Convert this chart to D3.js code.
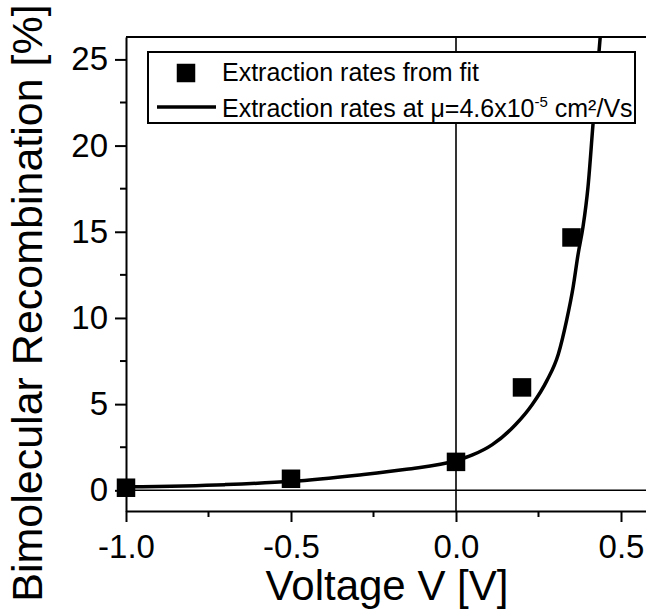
<!DOCTYPE html>
<html>
<head>
<meta charset="utf-8">
<script src="https://cdn.jsdelivr.net/npm/d3@7"></script>
<style>
    body { margin: 0; background: #fff; }
    svg { display: block; font-family: "Liberation Sans", Arial, sans-serif; }
</style>
</head>
<body>
<svg width="646" height="609"></svg>
<script>
// values
const pointVoltage = [-1.0, -0.5, 0.0, 0.2, 0.35];
const pointRecomb = [0.15, 0.67, 1.65, 5.97, 14.67];

const curveVoltage = [-1.0, -0.7, -0.5, -0.3, -0.15, 0.0, 0.05, 0.11, 0.18, 0.23, 0.275, 0.31, 0.335, 0.355, 0.37, 0.385, 0.40, 0.415, 0.437];
const curveRecomb = [0.2, 0.33, 0.52, 0.88, 1.22, 1.72, 2.05, 2.65, 3.8, 4.95, 6.35, 7.9, 9.85, 11.8, 13.7, 15.3, 17.6, 21.2, 26.3];

const xTicks = [-1.0, -0.5, 0.0, 0.5];
const xMinorTicks = [-0.75, -0.25, 0.25];
const yTicks = [0, 5, 10, 15, 20, 25];
const yMinorTicks = [2.5, 7.5, 12.5, 17.5, 22.5];

const legendPoints = "Extraction rates from fit";
const legendCurve = "Extraction rates at μ=4.6x10";

const svg = d3.select("svg");
const plotLeft = 126, plotTop = 37, plotBottom = 511;

const xScale = d3.scaleLinear().domain([-1.0, 0.6]).range([plotLeft, plotLeft + 528]);
const yScale = d3.scaleLinear().domain([-1.2, 26.3]).range([plotBottom, plotTop]);

svg.append("clipPath")
    .attr("id", "plot")
    .append("rect")
    .attr("x", plotLeft)
    .attr("y", plotTop)
    .attr("width", 646 - plotLeft)
    .attr("height", plotBottom - plotTop);

const plot = svg.append("g").attr("clip-path", "url(#plot)");

// zero lines
plot.append("line")
    .attr("x1", xScale(-1.0)).attr("x2", xScale(0.6))
    .attr("y1", yScale(0)).attr("y2", yScale(0))
    .attr("stroke", "#000").attr("stroke-width", 1.6);

plot.append("line")
    .attr("x1", xScale(0)).attr("x2", xScale(0))
    .attr("y1", yScale(-1.2)).attr("y2", yScale(26.3))
    .attr("stroke", "#000").attr("stroke-width", 1.6);

const curveData = curveVoltage.map((v, i) => ({ v: v, r: curveRecomb[i] }));
const line = d3.line()
    .x((d) => xScale(d.v))
    .y((d) => yScale(d.r))
    .curve(d3.curveMonotoneX);

plot.append("path")
    .datum(curveData)
    .attr("d", line)
    .attr("fill", "none")
    .attr("stroke", "#000")
    .attr("stroke-width", 3.5);

const pointData = pointVoltage.map((v, i) => ({ v: v, r: pointRecomb[i] }));
const sq = 18.5;
svg.selectAll(".pt")
    .data(pointData)
    .enter()
    .append("rect")
    .attr("class", "pt")
    .attr("x", (d) => xScale(d.v) - sq / 2)
    .attr("y", (d) => yScale(d.r) - sq / 2)
    .attr("width", sq)
    .attr("height", sq)
    .attr("fill", "#000");

// legend
const legend = svg.append("g");
legend.append("rect")
    .attr("x", 148).attr("y", 52)
    .attr("width", 487).attr("height", 71)
    .attr("fill", "#fff")
    .attr("stroke", "#000")
    .attr("stroke-width", 2);

legend.append("rect")
    .attr("x", 186 - sq / 2).attr("y", 73 - sq / 2)
    .attr("width", sq).attr("height", sq)
    .attr("fill", "#000");

legend.append("line")
    .attr("x1", 157).attr("x2", 216)
    .attr("y1", 107).attr("y2", 107)
    .attr("stroke", "#000").attr("stroke-width", 3.5);

legend.append("text")
    .attr("x", 222).attr("y", 81)
    .attr("font-size", 25)
    .text(legendPoints);

const t2 = legend.append("text")
    .attr("x", 222).attr("y", 117)
    .attr("font-size", 25);
t2.append("tspan").text(legendCurve);
t2.append("tspan").attr("dy", -10).attr("font-size", 15).text("-5");
t2.append("tspan").attr("dy", 10).text(" cm²/Vs");

// axes
const xAxis = svg.append("g")
    .attr("transform", `translate(0,${plotBottom})`)
    .call(d3.axisBottom(xScale)
        .tickValues(xTicks)
        .tickFormat((d) => d.toFixed(1))
        .tickSize(11)
        .tickSizeOuter(0)
        .tickPadding(13));

xAxis.selectAll(".tick text").attr("font-size", 33).attr("font-family", "Liberation Sans, Arial, sans-serif");
xAxis.selectAll("path, line").attr("stroke-width", 2);

xAxis.selectAll(".minor")
    .data(xMinorTicks)
    .enter()
    .append("line")
    .attr("class", "minor")
    .attr("x1", (d) => xScale(d)).attr("x2", (d) => xScale(d))
    .attr("y1", 0).attr("y2", 6)
    .attr("stroke", "#000").attr("stroke-width", 2);

const yAxis = svg.append("g")
    .attr("transform", `translate(${plotLeft},0)`)
    .call(d3.axisLeft(yScale)
        .tickValues(yTicks)
        .tickSize(11)
        .tickSizeOuter(0)
        .tickPadding(7));

yAxis.selectAll(".tick text").attr("font-size", 33).attr("font-family", "Liberation Sans, Arial, sans-serif");
yAxis.selectAll("path, line").attr("stroke-width", 2);

yAxis.selectAll(".minor")
    .data(yMinorTicks)
    .enter()
    .append("line")
    .attr("class", "minor")
    .attr("x1", -6).attr("x2", 0)
    .attr("y1", (d) => yScale(d)).attr("y2", (d) => yScale(d))
    .attr("stroke", "#000").attr("stroke-width", 2);

// top frame line
svg.append("line")
    .attr("x1", plotLeft).attr("x2", 646)
    .attr("y1", plotTop).attr("y2", plotTop)
    .attr("stroke", "#000").attr("stroke-width", 2);

// titles
svg.append("text")
    .attr("x", 387).attr("y", 600)
    .attr("text-anchor", "middle")
    .attr("font-size", 42)
    .text("Voltage V [V]");

svg.append("text")
    .attr("transform", "rotate(-90)")
    .attr("x", -303).attr("y", 42)
    .attr("text-anchor", "middle")
    .attr("font-size", 43)
    .text("Bimolecular Recombination [%]");
</script>
</body>
</html>
